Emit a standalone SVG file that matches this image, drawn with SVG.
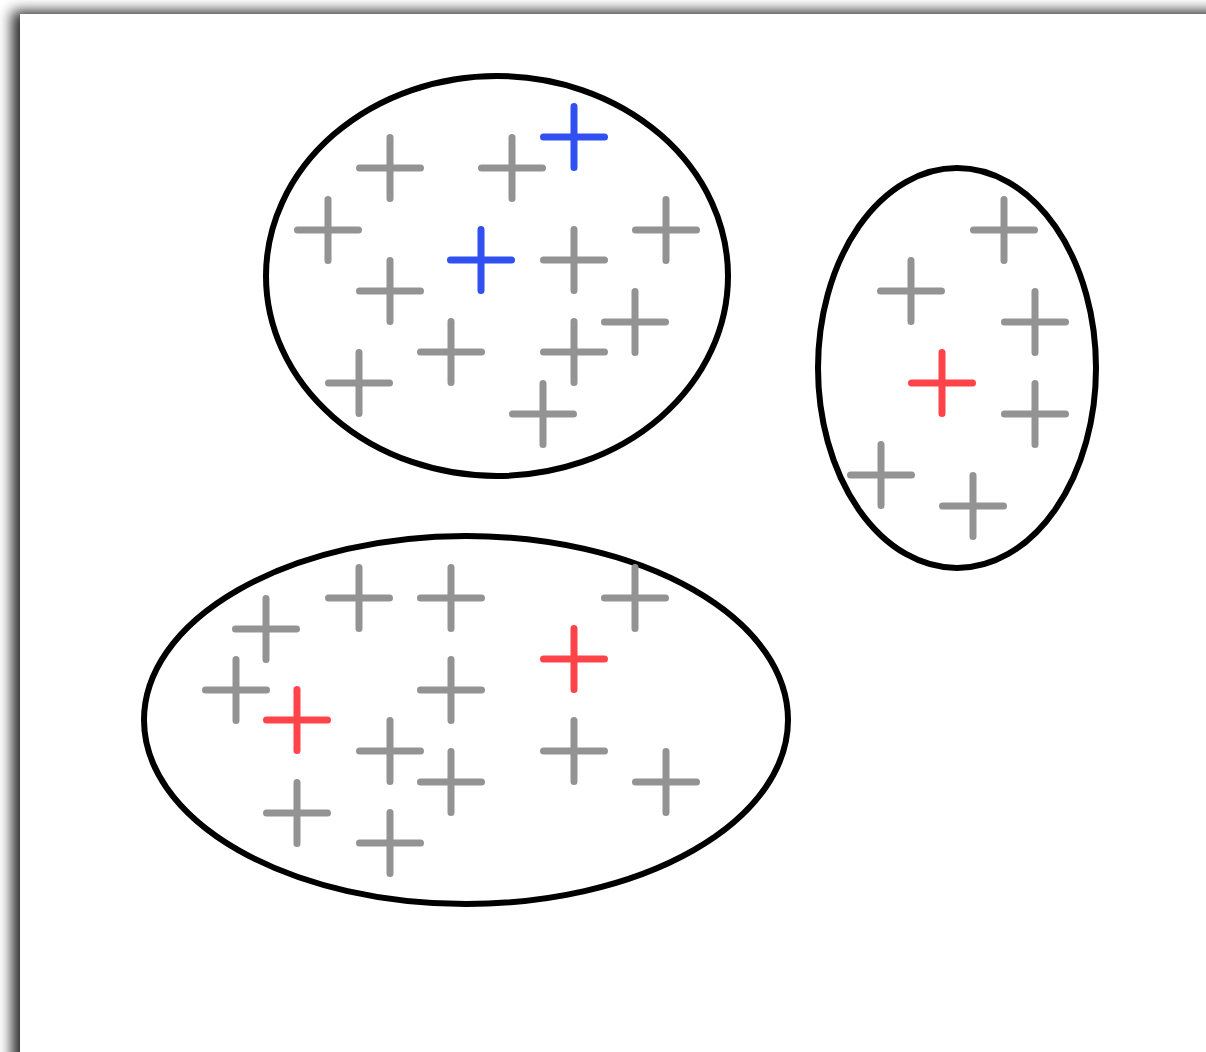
<svg xmlns="http://www.w3.org/2000/svg" width="1206" height="1052" viewBox="0 0 1206 1052">
<defs>
<filter id="sh" x="-10%" y="-10%" width="130%" height="130%">
<feGaussianBlur in="SourceAlpha" stdDeviation="7"/>
<feOffset dx="-8" dy="-3" result="b"/>
<feComponentTransfer><feFuncA type="linear" slope="0.85"/></feComponentTransfer>
<feMerge><feMergeNode/><feMergeNode in="SourceGraphic"/></feMerge>
</filter>
</defs>
<style>
.e{fill:none;stroke:#000;stroke-width:6}
.g,.b,.r{fill:none;stroke-width:7;stroke-linecap:round}
.g{stroke:#939393}
.b{stroke:#3050f2}
.r{stroke:#ff4449}
</style>
<rect width="1206" height="1052" fill="#fff"/>
<rect x="20" y="14" width="1220" height="1070" fill="#fff" filter="url(#sh)"/>
<g id="cluster-top">
<ellipse class="e" cx="497" cy="276" rx="231" ry="200"/>
<path class="g" d="M359.5,168h61M390,137.5v61"/>
<path class="g" d="M481.5,168h61M512,137.5v61"/>
<path class="b" d="M543.5,137h61M574,106.5v61"/>
<path class="g" d="M297.5,230h61M328,199.5v61"/>
<path class="b" d="M450.5,260h61M481,229.5v61"/>
<path class="g" d="M543.5,260h61M574,229.5v61"/>
<path class="g" d="M635.5,230h61M666,199.5v61"/>
<path class="g" d="M359.5,291h61M390,260.5v61"/>
<path class="g" d="M604.5,322h61M635,291.5v61"/>
<path class="g" d="M420.5,352h61M451,321.5v61"/>
<path class="g" d="M543.5,352h61M574,321.5v61"/>
<path class="g" d="M328.5,383h61M359,352.5v61"/>
<path class="g" d="M512.5,414h61M543,383.5v61"/>
</g>
<g id="cluster-right">
<ellipse class="e" cx="957" cy="368" rx="139" ry="200"/>
<path class="g" d="M973.5,230h61M1004,199.5v61"/>
<path class="g" d="M880.5,291h61M911,260.5v61"/>
<path class="g" d="M1004.5,322h61M1035,291.5v61"/>
<path class="r" d="M911.5,383h61M942,352.5v61"/>
<path class="g" d="M1004.5,414h61M1035,383.5v61"/>
<path class="g" d="M850.5,475h61M881,444.5v61"/>
<path class="g" d="M942.5,506h61M973,475.5v61"/>
</g>
<g id="cluster-bottom">
<ellipse class="e" cx="466" cy="720" rx="322" ry="184"/>
<path class="g" d="M328.5,598h61M359,567.5v61"/>
<path class="g" d="M420.5,598h61M451,567.5v61"/>
<path class="g" d="M604.5,598h61M635,567.5v61"/>
<path class="g" d="M235.5,629h61M266,598.5v61"/>
<path class="r" d="M543.5,659h61M574,628.5v61"/>
<path class="g" d="M205.5,690h61M236,659.5v61"/>
<path class="g" d="M420.5,690h61M451,659.5v61"/>
<path class="r" d="M266.5,720h61M297,689.5v61"/>
<path class="g" d="M359.5,751h61M390,720.5v61"/>
<path class="g" d="M543.5,751h61M574,720.5v61"/>
<path class="g" d="M420.5,782h61M451,751.5v61"/>
<path class="g" d="M635.5,782h61M666,751.5v61"/>
<path class="g" d="M266.5,813h61M297,782.5v61"/>
<path class="g" d="M359.5,843h61M390,812.5v61"/>
</g>
<g id="connectors"/>
</svg>
